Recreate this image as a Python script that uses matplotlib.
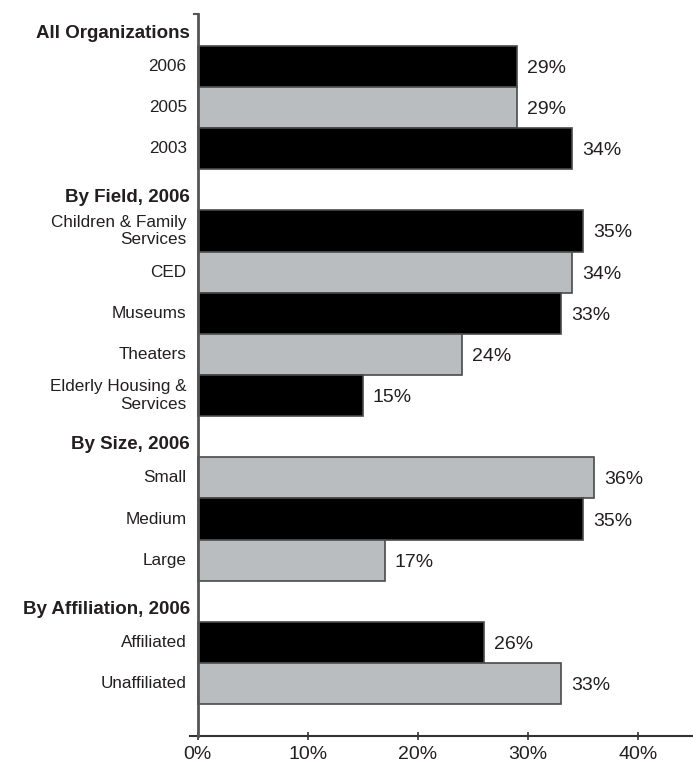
import matplotlib
matplotlib.use("Agg")
import matplotlib.pyplot as plt

plt.rcParams['font.family'] = ['Liberation Sans', 'DejaVu Sans']

# Group headings and rows, top to bottom
groups = ["All Organizations", "By Field, 2006", "By Size, 2006", "By Affiliation, 2006"]
group_labels = [
    ["2006", "2005", "2003"],
    ["Children & Family\nServices", "CED", "Museums", "Theaters", "Elderly Housing &\nServices"],
    ["Small", "Medium", "Large"],
    ["Affiliated", "Unaffiliated"],
]
group_values = [
    [29, 29, 34],
    [35, 34, 33, 24, 15],
    [36, 35, 17],
    [26, 33],
]
group_shades = [
    ["k", "g", "k"],
    ["k", "g", "k", "g", "k"],
    ["g", "k", "g"],
    ["k", "g"],
]
x_ticks = [0, 10, 20, 30, 40]

TEXT = "#231f20"
BLACK = "#000000"
GREY = "#babdbf"
EDGE = "#4a4a4a"

fig = plt.figure(figsize=(6.93, 7.67), dpi=100)
ax = fig.add_axes([190 / 693, 31 / 767, 503 / 693, 722 / 767])

slot = 0
for name, labels, values, shades in zip(groups, group_labels, group_values, group_shades):
    ax.text(-0.7, slot + 0.2, name, ha="right", va="center",
            fontsize=13.5, fontweight="bold", color=TEXT)
    slot += 1
    for lab, val, sh in zip(labels, values, shades):
        ax.barh(slot, val, height=1.0, color=BLACK if sh == "k" else GREY,
                edgecolor=EDGE, linewidth=1.2, zorder=2)
        ax.text(-1.0, slot, lab, ha="right", va="center", fontsize=12.3,
                color=TEXT, linespacing=1.2)
        ax.text(val + 0.9, slot + 0.05, f"{val}%", ha="left", va="center",
                fontsize=14, color=TEXT)
        slot += 1

ax.set_ylim(slot + 0.27, -0.27)
ax.set_xlim(-0.7, 45)

for side in ("top", "right", "left"):
    ax.spines[side].set_visible(False)
ax.spines["bottom"].set_color("#333333")
ax.spines["bottom"].set_linewidth(1.5)

# vertical axis line with a small hook at the top
ax.plot([0, 0], [-0.27, slot + 0.27], color="#555555", lw=2.0, zorder=3,
        clip_on=False)
ax.plot([-0.3, 0], [-0.27, -0.27], color="#555555", lw=1.5, zorder=3,
        clip_on=False)

ax.set_yticks([])
ax.set_xticks(x_ticks)
ax.set_xticklabels([f"{t}%" for t in x_ticks], fontsize=14, color=TEXT)
ax.tick_params(axis="x", direction="inout", length=6, width=1.2, color="#333333", pad=4)

fig.savefig("out.png", dpi=100)
